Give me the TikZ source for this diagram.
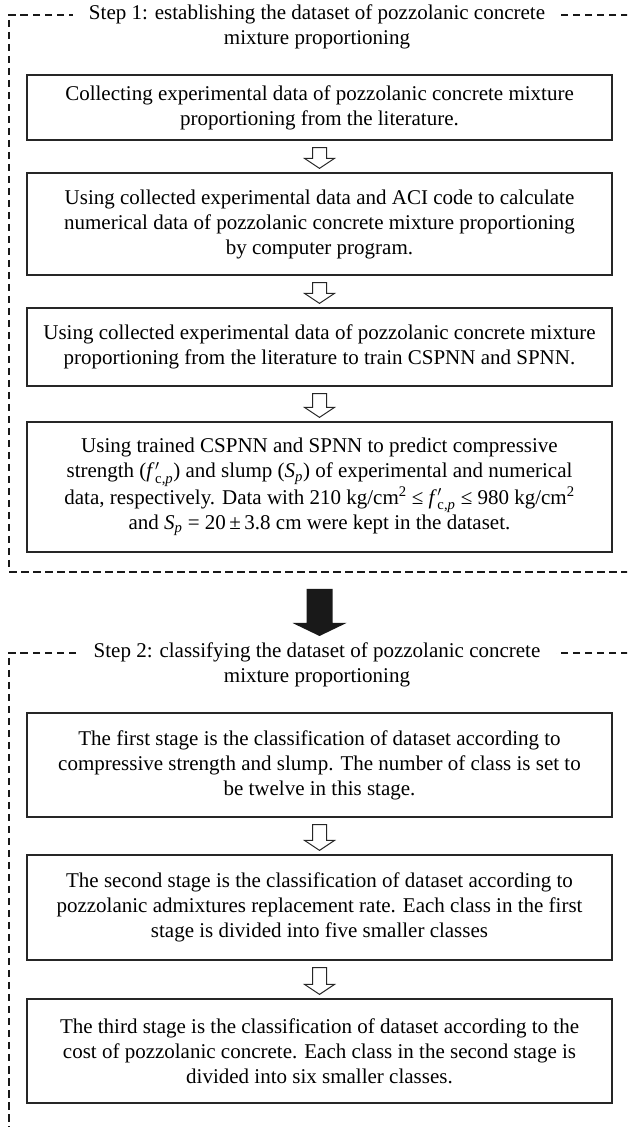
\documentclass[tikz,border=0pt]{standalone}
\usepackage{amsmath}
\usepackage{fontspec}
\setmainfont{Liberation Serif}
\usepackage{tikz}
\usetikzlibrary{calc}
\usetikzlibrary{positioning}

\newcommand{\fcp}{\textit{f}\kern0.5pt$'_{\text{c,\textit{p}}}$}
\newcommand{\Sp}{\textit{S}$_{\text{\textit{p}}}$}
% block arrow with open head, from the bottom of #1 to the top of #2
\newcommand{\hollowarrow}[2]{%
\draw[HollowArrow] ($(#1.south)+(-7,-7)$) -- ($(#2.north)+(-7,14)$) -- ($(#2.north)+(-15,14)$)
  -- ($(#2.north)+(0,4)$) -- ($(#2.north)+(15,14)$) -- ($(#2.north)+(7,14)$)
  -- ($(#1.south)+(7,-7)$) -- cycle;}

\begin{document}
\begin{tikzpicture}[
x=1pt,y=1pt,
StepBox/.style={draw=black!85,line width=1.2pt,minimum width=585pt,inner sep=0pt,align=center,
  font=\fontsize{21}{25}\selectfont},
StepTitle/.style={fill=white,inner xsep=16pt,inner ysep=2pt,align=center,anchor=north,
  font=\fontsize{21}{25}\selectfont},
Frame/.style={draw=black!90,line width=2pt,dash pattern=on 7.5pt off 4.5pt},
HollowArrow/.style={draw=black!85,line width=1pt,fill=white,line join=miter},
BigArrow/.style={fill=black!90}
]
\useasboundingbox (0,0) rectangle (627,1127);
\clip (0,0) rectangle (627,1127);

% frames of the two steps
\coordinate (F1top) at (9,1112);
\coordinate (F1bot) at (9,555);
\coordinate (F2top) at (9,474);
\draw[Frame] (F1top -| 640,0) -- (F1top) -- (F1bot) -- (F1bot -| 640,0);
\draw[Frame] (F2top -| 640,0) -- (F2top) -- (9,-20);

% Step 1
\node[StepTitle] (T1) at (317,1124) {Step 1: establishing the dataset of pozzolanic concrete\\mixture proportioning};

\node[StepBox,minimum height=65pt] (B1) at (319.5,1019.5)
  {Collecting experimental data of pozzolanic concrete mixture\\proportioning from the literature.};
\node[StepBox,minimum height=102pt] (B2) at (319.5,903)
  {Using collected experimental data and ACI code to calculate\\numerical data of pozzolanic concrete mixture proportioning\\by computer program.};
\node[StepBox,minimum height=78pt] (B3) at (319.5,780)
  {Using collected experimental data of pozzolanic concrete mixture\\proportioning from the literature to train CSPNN and SPNN.};
\node[StepBox,minimum height=130pt] (B4) at (319.5,640)
  {Using trained CSPNN and SPNN to predict compressive\\strength (\fcp) and slump (\Sp) of experimental and numerical\\data, respectively. Data with 210 kg/cm\textsuperscript{2} ≤ \fcp{} ≤ 980 kg/cm\textsuperscript{2}\\and \Sp{} = 20\,±\,3.8 cm were kept in the dataset.};

\hollowarrow{B1}{B2}
\hollowarrow{B2}{B3}
\hollowarrow{B3}{B4}

% from step 1 to step 2
\coordinate (A1) at (319.5,538);
\coordinate (A2) at (319.5,491);
\fill[BigArrow] ($(A1)+(-13,0)$) -- ($(A2)+(-13,13)$) -- ($(A2)+(-27,13)$) -- (A2)
  -- ($(A2)+(27,13)$) -- ($(A2)+(13,13)$) -- ($(A1)+(13,0)$) -- cycle;

% Step 2
\node[StepTitle] (T2) at (317,486) {Step 2: classifying the dataset of pozzolanic concrete\\mixture proportioning};

\node[StepBox,minimum height=104pt] (B5) at (319.5,362)
  {The first stage is the classification of dataset according to\\compressive strength and slump. The number of class is set to\\be twelve in this stage.};
\node[StepBox,minimum height=105pt] (B6) at (319.5,219.5)
  {The second stage is the classification of dataset according to\\pozzolanic admixtures replacement rate. Each class in the first\\stage is divided into five smaller classes};
\node[StepBox,minimum height=104pt] (B7) at (319.5,76)
  {The third stage is the classification of dataset according to the\\cost of pozzolanic concrete. Each class in the second stage is\\divided into six smaller classes.};

\hollowarrow{B5}{B6}
\hollowarrow{B6}{B7}

\end{tikzpicture}
\end{document}
